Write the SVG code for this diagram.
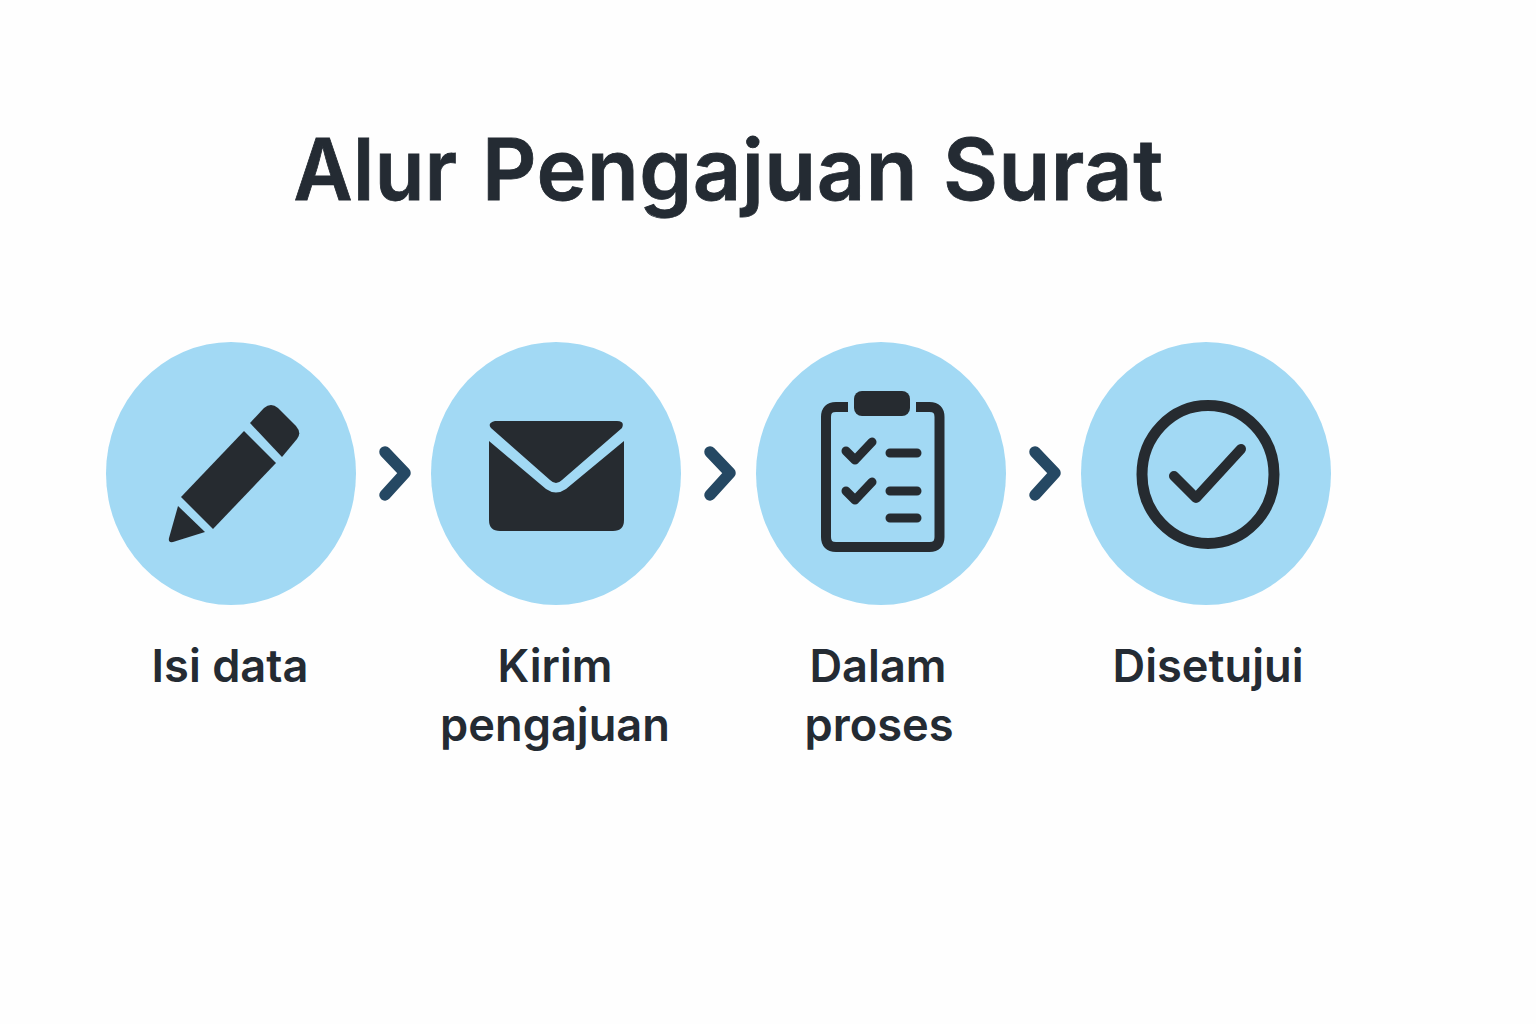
<svg xmlns="http://www.w3.org/2000/svg" width="1536" height="1024" viewBox="0 0 1536 1024">
<style>
text{font-family:Inter,"Liberation Sans",sans-serif;fill:#242b33}
.t{font-size:84.6px;font-weight:600;stroke:#242b33;stroke-width:.8px;letter-spacing:.5px}
.l{font-size:45.2px;font-weight:600;text-anchor:middle}
.c{fill:#a2d9f4}
.i{fill:#262b30}
.s{fill:none;stroke:#262b30;stroke-linecap:round;stroke-linejoin:round}
.b{stroke-linecap:butt}
.a{fill:none;stroke:#254863;stroke-width:11.500;stroke-linecap:round;stroke-linejoin:round}
</style>
<rect width="1536" height="1024" fill="#fefefe"/>
<text id="title" class="t" y="199.500"><tspan x="293.500" textLength="164" lengthAdjust="spacingAndGlyphs">Alur</tspan> <tspan x="482">Pengajuan</tspan> <tspan x="943">Surat</tspan></text>
<g id="node1"><ellipse class="c" cx="231" cy="473.500" rx="125" ry="131.500"/>
<path class="i" d="M244 431L276 463L213 529L181 497Z"/>
<path class="i" d="M250 423L264 408Q271 402 278 408L296 426Q302 433 297 439L282 457Z"/>
<path class="i" d="M178 506L205 532L173 542Q168 543 169 538Z"/>
<text class="l" x="230" y="682">Isi data</text></g>
<g id="node2"><ellipse class="c" cx="556" cy="473.500" rx="125" ry="131.500"/>
<path class="i" d="M489 441V520Q489 531 500 531H613Q624 531 624 520V441L566 489Q556 496 546 489Z"/>
<path class="i" d="M495 421H617Q625 421 622 428L562 480Q556 486 550 480L491 428Q487 423 495 421Z"/>
<text class="l"><tspan x="555" y="682">Kirim</tspan><tspan x="555" y="741">pengajuan</tspan></text></g>
<g id="node3"><ellipse class="c" cx="881" cy="473.500" rx="125" ry="131.500"/>
<path class="s b" stroke-width="10" d="M848 407H836Q826 407 826 417V537Q826 547 836 547H929.500Q939.500 547 939.500 537V417Q939.500 407 929.500 407H916"/>
<rect class="i" x="854" y="391" width="56" height="25" rx="8"/>
<path class="s" stroke-width="9" d="M846 451L855 460L872 442M846 491L855 500L872 482M890 453H917M890 491H917M890 518H917"/>
<text class="l"><tspan x="878" y="682">Dalam</tspan><tspan x="879" y="741">proses</tspan></text></g>
<g id="node4"><ellipse class="c" cx="1206" cy="473.500" rx="125" ry="131.500"/>
<ellipse class="s" stroke-width="11" cx="1208" cy="474.500" rx="66" ry="69"/>
<path class="s" stroke-width="10" d="M1174 476L1196 498L1241 449"/>
<text class="l" x="1208" y="682">Disetujui</text></g>
<g id="connectors">
<path class="a" d="M385 452L405 473L385 495"/>
<path class="a" d="M710 452L730 473L710 495"/>
<path class="a" d="M1035 452L1055 473L1035 495"/>
</g>
</svg>
